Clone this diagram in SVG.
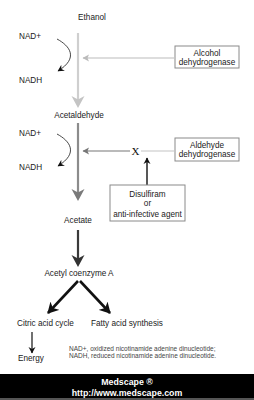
<svg xmlns="http://www.w3.org/2000/svg" width="254" height="400" viewBox="0 0 254 400">
<style>
text{font-family:"Liberation Sans",Arial,sans-serif;font-size:8.2px;fill:#1a1a1a}
.c{text-anchor:middle}
.box{fill:#fff;stroke:#8a8a8a;stroke-width:1}
.fn{font-size:6.5px;fill:#444}
.ban{font-family:"Liberation Sans",Arial,sans-serif;font-weight:bold;fill:#fff;font-size:8.8px;text-anchor:middle}
</style>
<defs>
<marker id="mk" markerWidth="8" markerHeight="8" refX="6" refY="4" orient="auto" markerUnits="userSpaceOnUse"><path d="M0,0.5 L6.5,4 L0,7.5 L2,4 Z" fill="#111"/></marker>
<marker id="mkl" markerWidth="8" markerHeight="8" refX="6" refY="4" orient="auto" markerUnits="userSpaceOnUse"><path d="M0,0.5 L6.5,4 L0,7.5 L1.5,4 Z" fill="#bbb"/></marker>
<marker id="mkg" markerWidth="8" markerHeight="8" refX="6" refY="4" orient="auto" markerUnits="userSpaceOnUse"><path d="M0,0.5 L6.5,4 L0,7.5 L1.5,4 Z" fill="#777"/></marker>
<marker id="mkb" markerWidth="12" markerHeight="12" refX="10" refY="6" orient="auto" markerUnits="userSpaceOnUse"><path d="M0,0 L11,6 L0,12 L3,6 Z" fill="#111"/></marker>
</defs>
<rect width="254" height="400" fill="#fff"/>
<g id="connectors">
<line x1="78" y1="33" x2="78" y2="100" stroke="#cfcfcf" stroke-width="2.2"/>
<path d="M71.5,96 L78,108 L84.5,96 L78,99.5 Z" fill="#c4c4c4"/>
<line x1="78" y1="123" x2="78" y2="193" stroke="#8c8c8c" stroke-width="2.2"/>
<path d="M71.5,189 L78,201 L84.5,189 L78,192.5 Z" fill="#7a7a7a"/>
<line x1="78" y1="230" x2="78" y2="259" stroke="#3a3a3a" stroke-width="2.2"/>
<path d="M71.5,255 L78,267 L84.5,255 L78,258.5 Z" fill="#333"/>
<path d="M57,39 C70,46 79,58 58,71" fill="none" stroke="#333" stroke-width="0.9" marker-end="url(#mk)"/>
<path d="M57,134 C70,141 79,153 58,166" fill="none" stroke="#333" stroke-width="0.9" marker-end="url(#mk)"/>
<line x1="174" y1="58" x2="83" y2="58" stroke="#bbb" stroke-width="1.1" marker-end="url(#mkl)"/>
<line x1="174" y1="151" x2="141" y2="151" stroke="#c4c4c4" stroke-width="1.1"/>
<line x1="130" y1="151" x2="83" y2="151" stroke="#777" stroke-width="1.1" marker-end="url(#mkg)"/>
<line x1="147" y1="185" x2="147" y2="158" stroke="#111" stroke-width="1.4" marker-end="url(#mk)"/>
<line x1="78" y1="281" x2="48" y2="313" stroke="#111" stroke-width="2.6" marker-end="url(#mkb)"/>
<line x1="80" y1="281" x2="110" y2="313" stroke="#111" stroke-width="2.6" marker-end="url(#mkb)"/>
<line x1="32" y1="332" x2="32" y2="353" stroke="#111" stroke-width="1.2" marker-end="url(#mk)"/>
</g>
<g id="ethanol"><text x="92" y="20" class="c">Ethanol</text></g>
<g id="nad1"><text x="19" y="39">NAD+</text></g>
<g id="nadh1"><text x="19" y="83">NADH</text></g>
<g id="adh"><rect class="box" x="175" y="46" width="64" height="22"/><text x="207" y="55.5" class="c">Alcohol</text><text x="207" y="64.5" class="c">dehydrogenase</text></g>
<g id="acetaldehyde"><text x="79" y="118" class="c">Acetaldehyde</text></g>
<g id="nad2"><text x="19" y="136">NAD+</text></g>
<g id="nadh2"><text x="19" y="170">NADH</text></g>
<g id="aldh"><rect class="box" x="175" y="138" width="64" height="23"/><text x="207" y="148" class="c">Aldehyde</text><text x="207" y="157" class="c">dehydrogenase</text></g>
<g id="block"><text x="135.5" y="155" class="c" style="font-family:'Liberation Serif',serif;font-size:11px;fill:#111">X</text></g>
<g id="disulfiram"><rect class="box" x="110" y="185" width="75" height="36"/><text x="147.5" y="197" class="c">Disulfiram</text><text x="147.5" y="206" class="c">or</text><text x="147.5" y="217" class="c">anti-infective agent</text></g>
<g id="acetate"><text x="78" y="223" class="c">Acetate</text></g>
<g id="acetylcoa"><text x="79" y="276" class="c">Acetyl coenzyme A</text></g>
<g id="citric"><text x="17" y="326">Citric acid cycle</text></g>
<g id="fatty"><text x="91" y="326">Fatty acid synthesis</text></g>
<g id="energy"><text x="18" y="361">Energy</text></g>
<g id="footnote"><text x="69" y="351" class="fn">NAD+, oxidized nicotinamide adenine dinucleotide;</text><text x="69" y="358" class="fn">NADH, reduced nicotinamide adenine dinucleotide.</text></g>
<g id="banner"><rect x="0" y="374" width="254" height="24" fill="#000"/><rect x="0" y="398" width="254" height="2" fill="#555"/><text x="127" y="385" class="ban">Medscape ®</text><text x="127" y="396" class="ban">http://www.medscape.com</text></g>
</svg>
